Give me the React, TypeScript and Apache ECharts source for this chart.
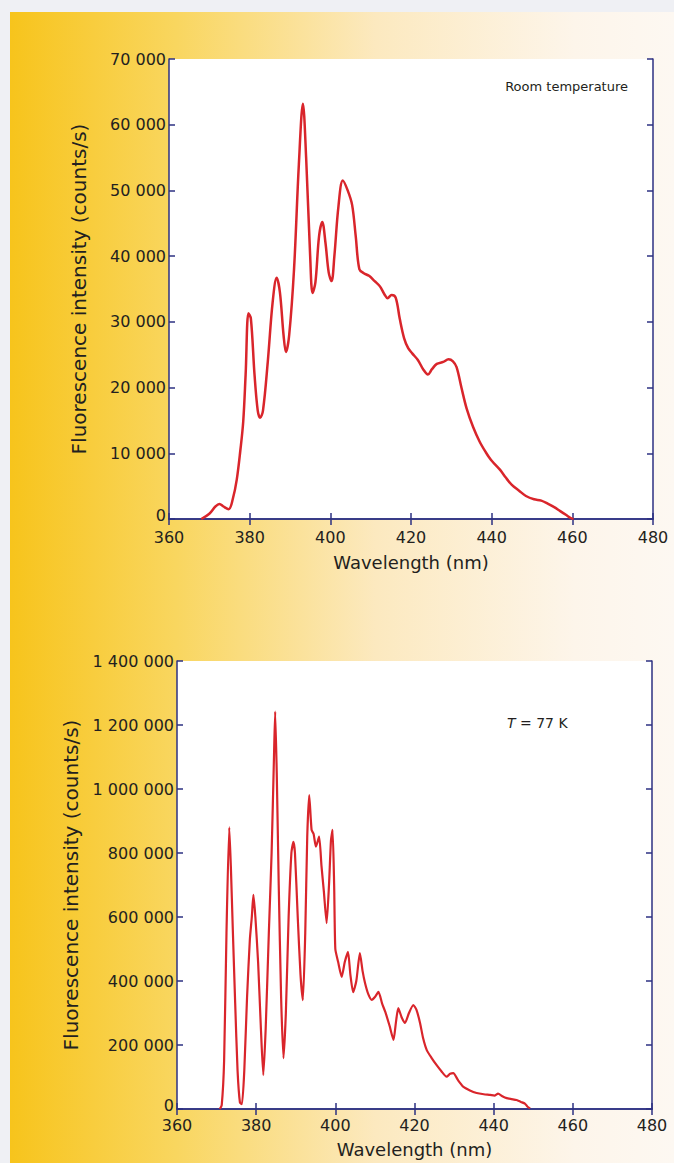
import React, { useEffect, useRef } from "react";
import * as echarts from "echarts";

// ---- Data ----
const xTicks = [360, 380, 400, 420, 440, 460, 480];

const roomWavelength = [
  368.0, 370.0, 371.5, 372.5, 373.5, 374.8, 375.8, 376.8, 377.7, 378.4, 379.0, 379.7,
  380.3, 381.2, 382.0, 382.6, 383.3, 384.5, 385.7, 386.7, 387.5, 388.4, 389.0, 389.8,
  391.0, 392.2, 393.2, 394.0, 395.0, 395.6, 396.3, 397.2, 398.0, 398.8, 399.6, 400.3,
  401.0, 402.0, 403.1, 404.3, 405.4, 406.3, 407.2, 408.3, 409.6, 411.0, 412.3, 413.4,
  414.2, 415.2, 416.2, 417.2, 418.3, 419.3, 420.3, 421.7, 423.0, 424.2, 425.2, 426.4,
  428.0, 429.3, 430.4, 431.3, 432.5, 433.8, 435.4, 437.0, 438.5, 439.8, 441.0, 442.2,
  443.5, 445.0, 446.8, 448.5, 450.5, 452.3, 454.0, 455.5, 457.0, 458.5, 459.6, 460.3,
];
const roomCounts = [
  0, 800, 1900, 2300, 1900, 1500, 3000, 6000, 10500, 14800, 22000, 31300,
  30500, 22000, 16500, 15400, 16500, 24000, 33000, 36700, 34500, 28000, 25400, 28000,
  38000, 54000, 63200, 55000, 40000, 34400, 36000, 43000, 45200, 42000, 37500, 36200,
  40000, 47500, 51500, 50000, 47800, 43000, 38000, 37400, 37000, 36200, 35400, 34200,
  33600, 34100, 33700, 30500, 27500, 26000, 25200, 24200, 22800, 22000, 22800, 23600,
  23900, 24300, 24000, 23100, 20000, 16800, 14000, 11800, 10200, 9000, 8200, 7400,
  6300, 5200, 4300, 3500, 3000, 2800, 2300, 1800, 1200, 600, 150, 0,
];

const coldWavelength = [
  370.8, 371.3, 371.9, 372.5, 373.2, 373.6, 374.1, 374.7, 375.3, 375.9, 376.4, 377.0,
  377.7, 378.4, 378.9, 379.3, 379.8, 380.5, 381.2, 381.8, 382.4, 383.2, 383.9, 384.5,
  384.8, 385.2, 385.7, 386.3, 386.9, 387.5, 388.2, 388.9, 389.4, 389.8, 390.5, 391.2,
  391.8, 392.4, 392.9, 393.4, 394.0, 394.5, 395.1, 395.9, 396.5, 397.1, 397.8, 398.4,
  398.9, 399.3, 399.7, 400.0, 400.7, 401.6, 402.4, 403.2, 403.8, 404.5, 405.3, 406.2,
  406.9, 407.5, 408.3, 409.2, 410.0, 410.9, 411.8, 412.6, 413.7, 414.7, 415.3, 415.9,
  416.8, 417.6, 418.6, 419.7, 420.5, 421.4, 422.2, 423.1, 424.3, 425.6, 426.8, 428.1,
  429.0, 429.8, 431.0, 432.3, 434.0, 435.7, 437.5, 439.1, 440.2, 441.1, 442.2, 443.3,
  444.5, 445.8, 446.9, 447.9, 448.5, 449.2,
];
const coldCounts = [
  0, 12000, 150000, 550000, 880000, 760000, 560000, 330000, 120000, 20000, 15000, 120000,
  350000, 528000, 600000, 669000, 600000, 456000, 250000, 106000, 250000, 550000, 800000, 1100000,
  1242000, 1050000, 700000, 350000, 159000, 300000, 600000, 800000, 835000, 800000, 600000, 420000,
  340000, 550000, 850000, 981000, 872000, 860000, 820000, 851000, 760000, 680000, 581000, 700000,
  840000, 872000, 700000, 500000, 460000, 413000, 460000, 491000, 420000, 365000, 400000, 487000,
  430000, 394000, 360000, 341000, 350000, 366000, 330000, 304000, 260000, 216000, 270000, 315000,
  285000, 269000, 300000, 325000, 310000, 269000, 220000, 184000, 160000, 137000, 118000, 101000,
  110000, 112000, 90000, 70000, 58000, 50000, 46000, 44000, 42000, 48000, 40000, 34000,
  31000, 28000, 22000, 17000, 8000, 2000,
];

const roomLabel = "Room temperature";
const coldLabel = "77 K";
const xName = "Wavelength (nm)";
const yName = "Fluorescence intensity (counts/s)";

// ---- Styling ----
const FONT = "DejaVu Sans";
const AXIS_COLOR = "#2d3182";
const TEXT_COLOR = "#231f20";
const LINE_COLOR = "#d9252b";

const fmt = (v: number) => String(v).replace(/\B(?=(\d{3})+(?!\d))/g, " ");

function zip(xs: number[], ys: number[]) {
  return xs.map((x, i) => [x, ys[i]]);
}

export default function App() {
  const ref = useRef<HTMLDivElement>(null);

  useEffect(() => {
    document.body.style.margin = "0";
    if (!ref.current) return;
    const chart = echarts.init(ref.current, undefined, { renderer: "svg" });

    const baseX = (gridIndex: number, margin: number, gap: number) => ({
      type: "value",
      gridIndex,
      min: xTicks[0],
      max: xTicks[xTicks.length - 1],
      interval: 20,
      name: xName,
      nameLocation: "middle",
      nameGap: gap,
      nameTextStyle: { fontFamily: FONT, fontSize: 18, color: TEXT_COLOR },
      axisLine: { show: true, lineStyle: { color: AXIS_COLOR, width: 1.5 } },
      axisTick: { show: true, inside: true, length: 6, lineStyle: { color: AXIS_COLOR, width: 1.5 } },
      axisLabel: { fontFamily: FONT, fontSize: 16, color: TEXT_COLOR, margin },
      splitLine: { show: false },
    });
    const mirrorX = (gridIndex: number) => ({
      type: "value",
      gridIndex,
      position: "top",
      min: xTicks[0],
      max: xTicks[xTicks.length - 1],
      interval: 20,
      axisLine: { show: true, lineStyle: { color: AXIS_COLOR, width: 1.5 } },
      axisTick: { show: true, inside: true, length: 6, lineStyle: { color: AXIS_COLOR, width: 1.5 } },
      axisLabel: { show: false },
      splitLine: { show: false },
    });
    const baseY = (gridIndex: number, max: number, interval: number, gap: number) => ({
      type: "value",
      gridIndex,
      min: 0,
      max,
      interval,
      name: yName,
      nameLocation: "middle",
      nameGap: gap,
      nameTextStyle: { fontFamily: FONT, fontSize: 20, color: TEXT_COLOR },
      axisLine: { show: true, lineStyle: { color: AXIS_COLOR, width: 1.5 } },
      axisTick: { show: true, inside: true, length: 6, lineStyle: { color: AXIS_COLOR, width: 1.5 } },
      axisLabel: {
        fontFamily: FONT,
        fontSize: 16,
        color: TEXT_COLOR,
        margin: 3,
        formatter: (v: number) => (v === 0 ? "{z|0}" : fmt(v)),
        rich: { z: { fontFamily: FONT, fontSize: 16, color: TEXT_COLOR, padding: [0, 0, 8, 0] } },
      },
      splitLine: { show: false },
    });
    const mirrorY = (gridIndex: number, max: number, interval: number) => ({
      type: "value",
      gridIndex,
      position: "right",
      min: 0,
      max,
      interval,
      axisLine: { show: true, lineStyle: { color: AXIS_COLOR, width: 1.5 } },
      axisTick: { show: true, inside: true, length: 6, lineStyle: { color: AXIS_COLOR, width: 1.5 } },
      axisLabel: { show: false },
      splitLine: { show: false },
    });

    chart.setOption({
      animation: false,
      backgroundColor: "#eff0f4",
      graphic: [
        {
          type: "rect",
          z: -10,
          silent: true,
          shape: { x: 10, y: 12, width: 664, height: 1151 },
          style: {
            fill: new echarts.graphic.LinearGradient(0, 0, 1, 0, [
              { offset: 0, color: "#f7c41c" },
              { offset: 0.25, color: "#f9d65f" },
              { offset: 0.55, color: "#fce9bf" },
              { offset: 0.85, color: "#fdf5ea" },
              { offset: 1, color: "#fdf8f2" },
            ]),
          },
        },
        {
          type: "text",
          right: 674 - 628,
          top: 80,
          z: 10,
          style: { text: roomLabel, fontFamily: FONT, fontSize: 13, fill: TEXT_COLOR },
        },
        {
          type: "text",
          left: 507,
          top: 716,
          z: 10,
          style: {
            text: "{i|T} = " + coldLabel,
            fontFamily: FONT,
            fontSize: 14,
            fill: TEXT_COLOR,
            rich: { i: { fontStyle: "italic", fontFamily: FONT, fontSize: 14, fill: TEXT_COLOR } },
          },
        },
      ],
      grid: [
        { left: 169, top: 59, width: 484, height: 460, show: true, backgroundColor: "#ffffff", borderWidth: 0 },
        { left: 177, top: 661, width: 475, height: 448, show: true, backgroundColor: "#ffffff", borderWidth: 0 },
      ],
      xAxis: [baseX(0, 10, 34), baseX(1, 8, 31), mirrorX(0), mirrorX(1)],
      yAxis: [
        baseY(0, 70000, 10000, 80),
        baseY(1, 1400000, 200000, 96),
        mirrorY(0, 70000, 10000),
        mirrorY(1, 1400000, 200000),
      ],
      series: [
        {
          type: "line",
          xAxisIndex: 0,
          yAxisIndex: 0,
          data: zip(roomWavelength, roomCounts),
          smooth: 0.35,
          showSymbol: false,
          lineStyle: { color: LINE_COLOR, width: 2.5 },
        },
        {
          type: "line",
          xAxisIndex: 1,
          yAxisIndex: 1,
          data: zip(coldWavelength, coldCounts),
          smooth: 0.2,
          showSymbol: false,
          lineStyle: { color: LINE_COLOR, width: 2.2 },
        },
      ],
    });

    return () => chart.dispose();
  }, []);

  return <div ref={ref} style={{ width: 674, height: 1163 }} />;
}
